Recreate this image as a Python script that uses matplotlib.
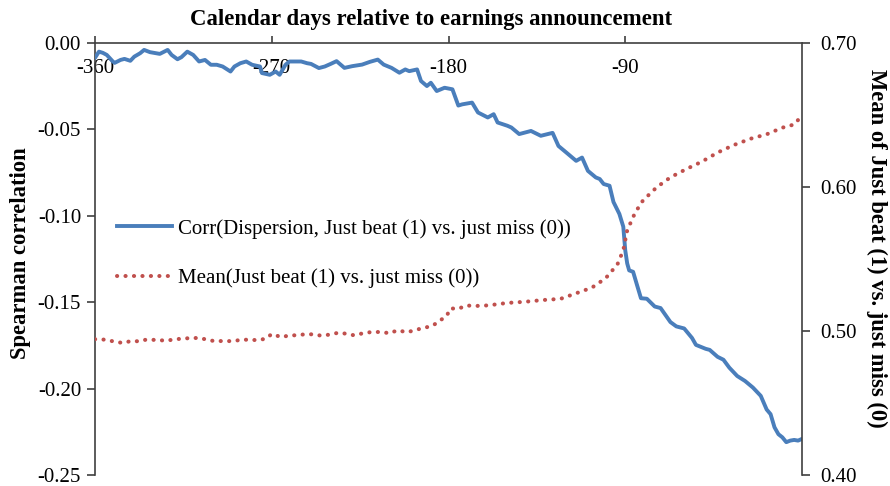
import matplotlib
matplotlib.use("Agg")
import matplotlib.pyplot as plt
from matplotlib.lines import Line2D
import numpy as np

plt.rcParams['font.family'] = ['Liberation Serif', 'DejaVu Serif']
plt.rcParams['axes.unicode_minus'] = False

# ---- data ----
corr_days = [-360, -358, -356, -354, -351, -350, -347, -345, -342, -340, -337, -335, -332, -329, -327,
             -323, -321, -318, -316, -313, -310, -307, -304, -301, -298, -295, -291, -289, -286, -283,
             -280, -276, -275, -271, -268, -266, -263, -261, -257, -255, -252, -250, -246, -243, -240,
             -237, -233, -229, -224, -220, -216, -213, -209, -205, -202, -200, -196, -194, -191, -189,
             -186, -182, -178, -175, -173, -168, -165, -160, -157, -155, -150, -148, -144, -138, -133,
             -127, -124, -120, -115, -112, -109, -105, -103, -101, -98, -96, -93, -91, -90, -89, -88,
             -86, -84, -82, -79, -75, -72, -67, -64, -60, -56, -54, -49, -47, -43, -40, -37, -33, -29,
             -25, -21, -18, -16, -14, -12, -10, -8, -6, -4, -2, 0]
corr_vals = [-0.0086, -0.0050, -0.0057, -0.0069, -0.0106, -0.0115, -0.0098, -0.0092, -0.0103, -0.0079,
             -0.0059, -0.0040, -0.0053, -0.0059, -0.0063, -0.0040, -0.0069, -0.0094, -0.0082, -0.0050,
             -0.0069, -0.0107, -0.0098, -0.0126, -0.0126, -0.0136, -0.0165, -0.0136, -0.0117, -0.0107,
             -0.0126, -0.0136, -0.0174, -0.0184, -0.0165, -0.0184, -0.0126, -0.0107, -0.0107, -0.0107,
             -0.0117, -0.0121, -0.0145, -0.0136, -0.0121, -0.0105, -0.0144, -0.0134, -0.0125, -0.0109,
             -0.0096, -0.0125, -0.0144, -0.0172, -0.0153, -0.0163, -0.0153, -0.0220, -0.0249, -0.0230,
             -0.0278, -0.0259, -0.0268, -0.0362, -0.0355, -0.0345, -0.0402, -0.0431, -0.0412, -0.0460,
             -0.0479, -0.0489, -0.0527, -0.0509, -0.0537, -0.0520, -0.0596, -0.0634, -0.0682, -0.0663,
             -0.0740, -0.0778, -0.0787, -0.0816, -0.0826, -0.0920, -0.0989, -0.1063, -0.1200, -0.1276,
             -0.1316, -0.1324, -0.1401, -0.1477, -0.1480, -0.1525, -0.1534, -0.1615, -0.1640, -0.1652,
             -0.1707, -0.1747, -0.1770, -0.1776, -0.1816, -0.1833, -0.1879, -0.1927, -0.1956, -0.1994,
             -0.2042, -0.2121, -0.2148, -0.2224, -0.2264, -0.2282, -0.2310, -0.2301, -0.2297, -0.2301,
             -0.2291]

mean_days = [-360, -355, -351, -346, -342, -337, -334, -329, -324, -320, -316, -312, -307, -303, -299,
             -294, -290, -286, -282, -277, -273, -270, -265, -261, -258, -253, -249, -245, -241, -236,
             -232, -228, -223, -219, -214, -210, -206, -201, -197, -192, -188, -185, -181, -179, -175,
             -171, -166, -161, -158, -150, -141, -132, -123, -115, -107, -100, -94, -91, -89, -85, -81,
             -74, -67, -59, -51, -43, -35, -26, -18, -10, -4, -1, 0]
mean_vals = [0.4943, 0.4940, 0.4929, 0.4917, 0.4929, 0.4929, 0.4940, 0.4938, 0.4933, 0.4940, 0.4947,
             0.4950, 0.4952, 0.4940, 0.4929, 0.4931, 0.4929, 0.4938, 0.4940, 0.4936, 0.4947, 0.4979,
             0.4957, 0.4970, 0.4970, 0.4977, 0.4977, 0.4968, 0.4974, 0.4988, 0.4981, 0.4970, 0.4986,
             0.4993, 0.4993, 0.4984, 0.5005, 0.4991, 0.5007, 0.5023, 0.5037, 0.5067, 0.5103, 0.5157,
             0.5154, 0.5177, 0.5174, 0.5177, 0.5181, 0.5195, 0.5203, 0.5215, 0.5223, 0.5262, 0.5301,
             0.5366, 0.5462, 0.5561, 0.5699, 0.5821, 0.5906, 0.5998, 0.6067, 0.6124, 0.6176, 0.6239,
             0.6290, 0.6336, 0.6366, 0.6412, 0.6434, 0.6481, 0.6490]

x_ticks = [-360, -270, -180, -90]
left_ticks = [0.00, -0.05, -0.10, -0.15, -0.20, -0.25]
right_ticks = [0.40, 0.50, 0.60, 0.70]

title = "Calendar days relative to earnings announcement"
left_label = "Spearman correlation"
right_label = "Mean of Just beat (1) vs. just miss (0)"
corr_name = "Corr(Dispersion, Just beat (1) vs. just miss (0))"
mean_name = "Mean(Just beat (1) vs. just miss (0))"

BLUE = '#4A7EBB'
RED = '#C0504D'
FS = 15

fig = plt.figure(figsize=(8.9, 4.86), dpi=100)
ax = fig.add_axes([95/890, 1-475/486, (802-95)/890, (475-43)/486])
ax2 = ax.twinx()

ax.plot(corr_days, corr_vals, color=BLUE, lw=2.8, solid_joinstyle='round', solid_capstyle='round', zorder=3)
ax2.plot(mean_days, mean_vals, color=RED, lw=2.9, linestyle=(0, (0.05, 2.05)),
         dash_capstyle='round', zorder=3)

ax.set_xlim(-360, 0)
ax.set_ylim(-0.25, 0.0)
ax2.set_ylim(0.40, 0.70)

ax.set_yticks(left_ticks)
ax.set_yticklabels([f"{v:.2f}" for v in left_ticks])
ax2.set_yticks(right_ticks)
ax2.set_yticklabels([f"{v:.2f}" for v in right_ticks])
ax.set_xticks(x_ticks)
ax.set_xticklabels([str(v) for v in x_ticks])

spine_col = '#404040'
for a in (ax, ax2):
    a.spines['bottom'].set_visible(False)
    for s in ('left', 'right', 'top'):
        a.spines[s].set_color(spine_col)
        a.spines[s].set_linewidth(1.2)
    a.set_facecolor('none')
ax2.spines['left'].set_visible(False)
ax2.spines['top'].set_visible(False)
ax.spines['right'].set_visible(False)

ax.xaxis.tick_top()
ax.tick_params(axis='x', which='major', direction='out', length=5, width=1.2, color=spine_col,
               top=True, bottom=False, labeltop=True, labelbottom=False, pad=-30, labelsize=FS)
ax.tick_params(axis='y', direction='out', length=6, width=1.2, color=spine_col, labelsize=FS, pad=4)
ax2.tick_params(axis='y', direction='out', length=6, width=1.2, color=spine_col, labelsize=FS, pad=7)

fig.text(431/890, 1-20/486, title, ha='center', va='center', fontsize=16.4, fontweight='bold')
fig.text(21/890, 1-253/486, left_label, ha='center', va='center', rotation=90, fontsize=16.3, fontweight='bold')
fig.text(877/890, 1-248/486, right_label, ha='center', va='center', rotation=-90, fontsize=16.3, fontweight='bold')

h1 = Line2D([], [], color=BLUE, lw=2.8)
h2 = Line2D([], [], color=RED, lw=2.9, linestyle=(0, (0.05, 2.05)), dash_capstyle='round')
leg = ax.legend([h1, h2], [corr_name, mean_name], loc='upper left',
                bbox_to_anchor=(117/890, 1-219/486), bbox_transform=fig.transFigure,
                frameon=False, fontsize=FS, handlelength=2.65, handletextpad=0.28,
                labelspacing=1.41, borderpad=0, borderaxespad=0)

fig.savefig('out.png', dpi=100)
